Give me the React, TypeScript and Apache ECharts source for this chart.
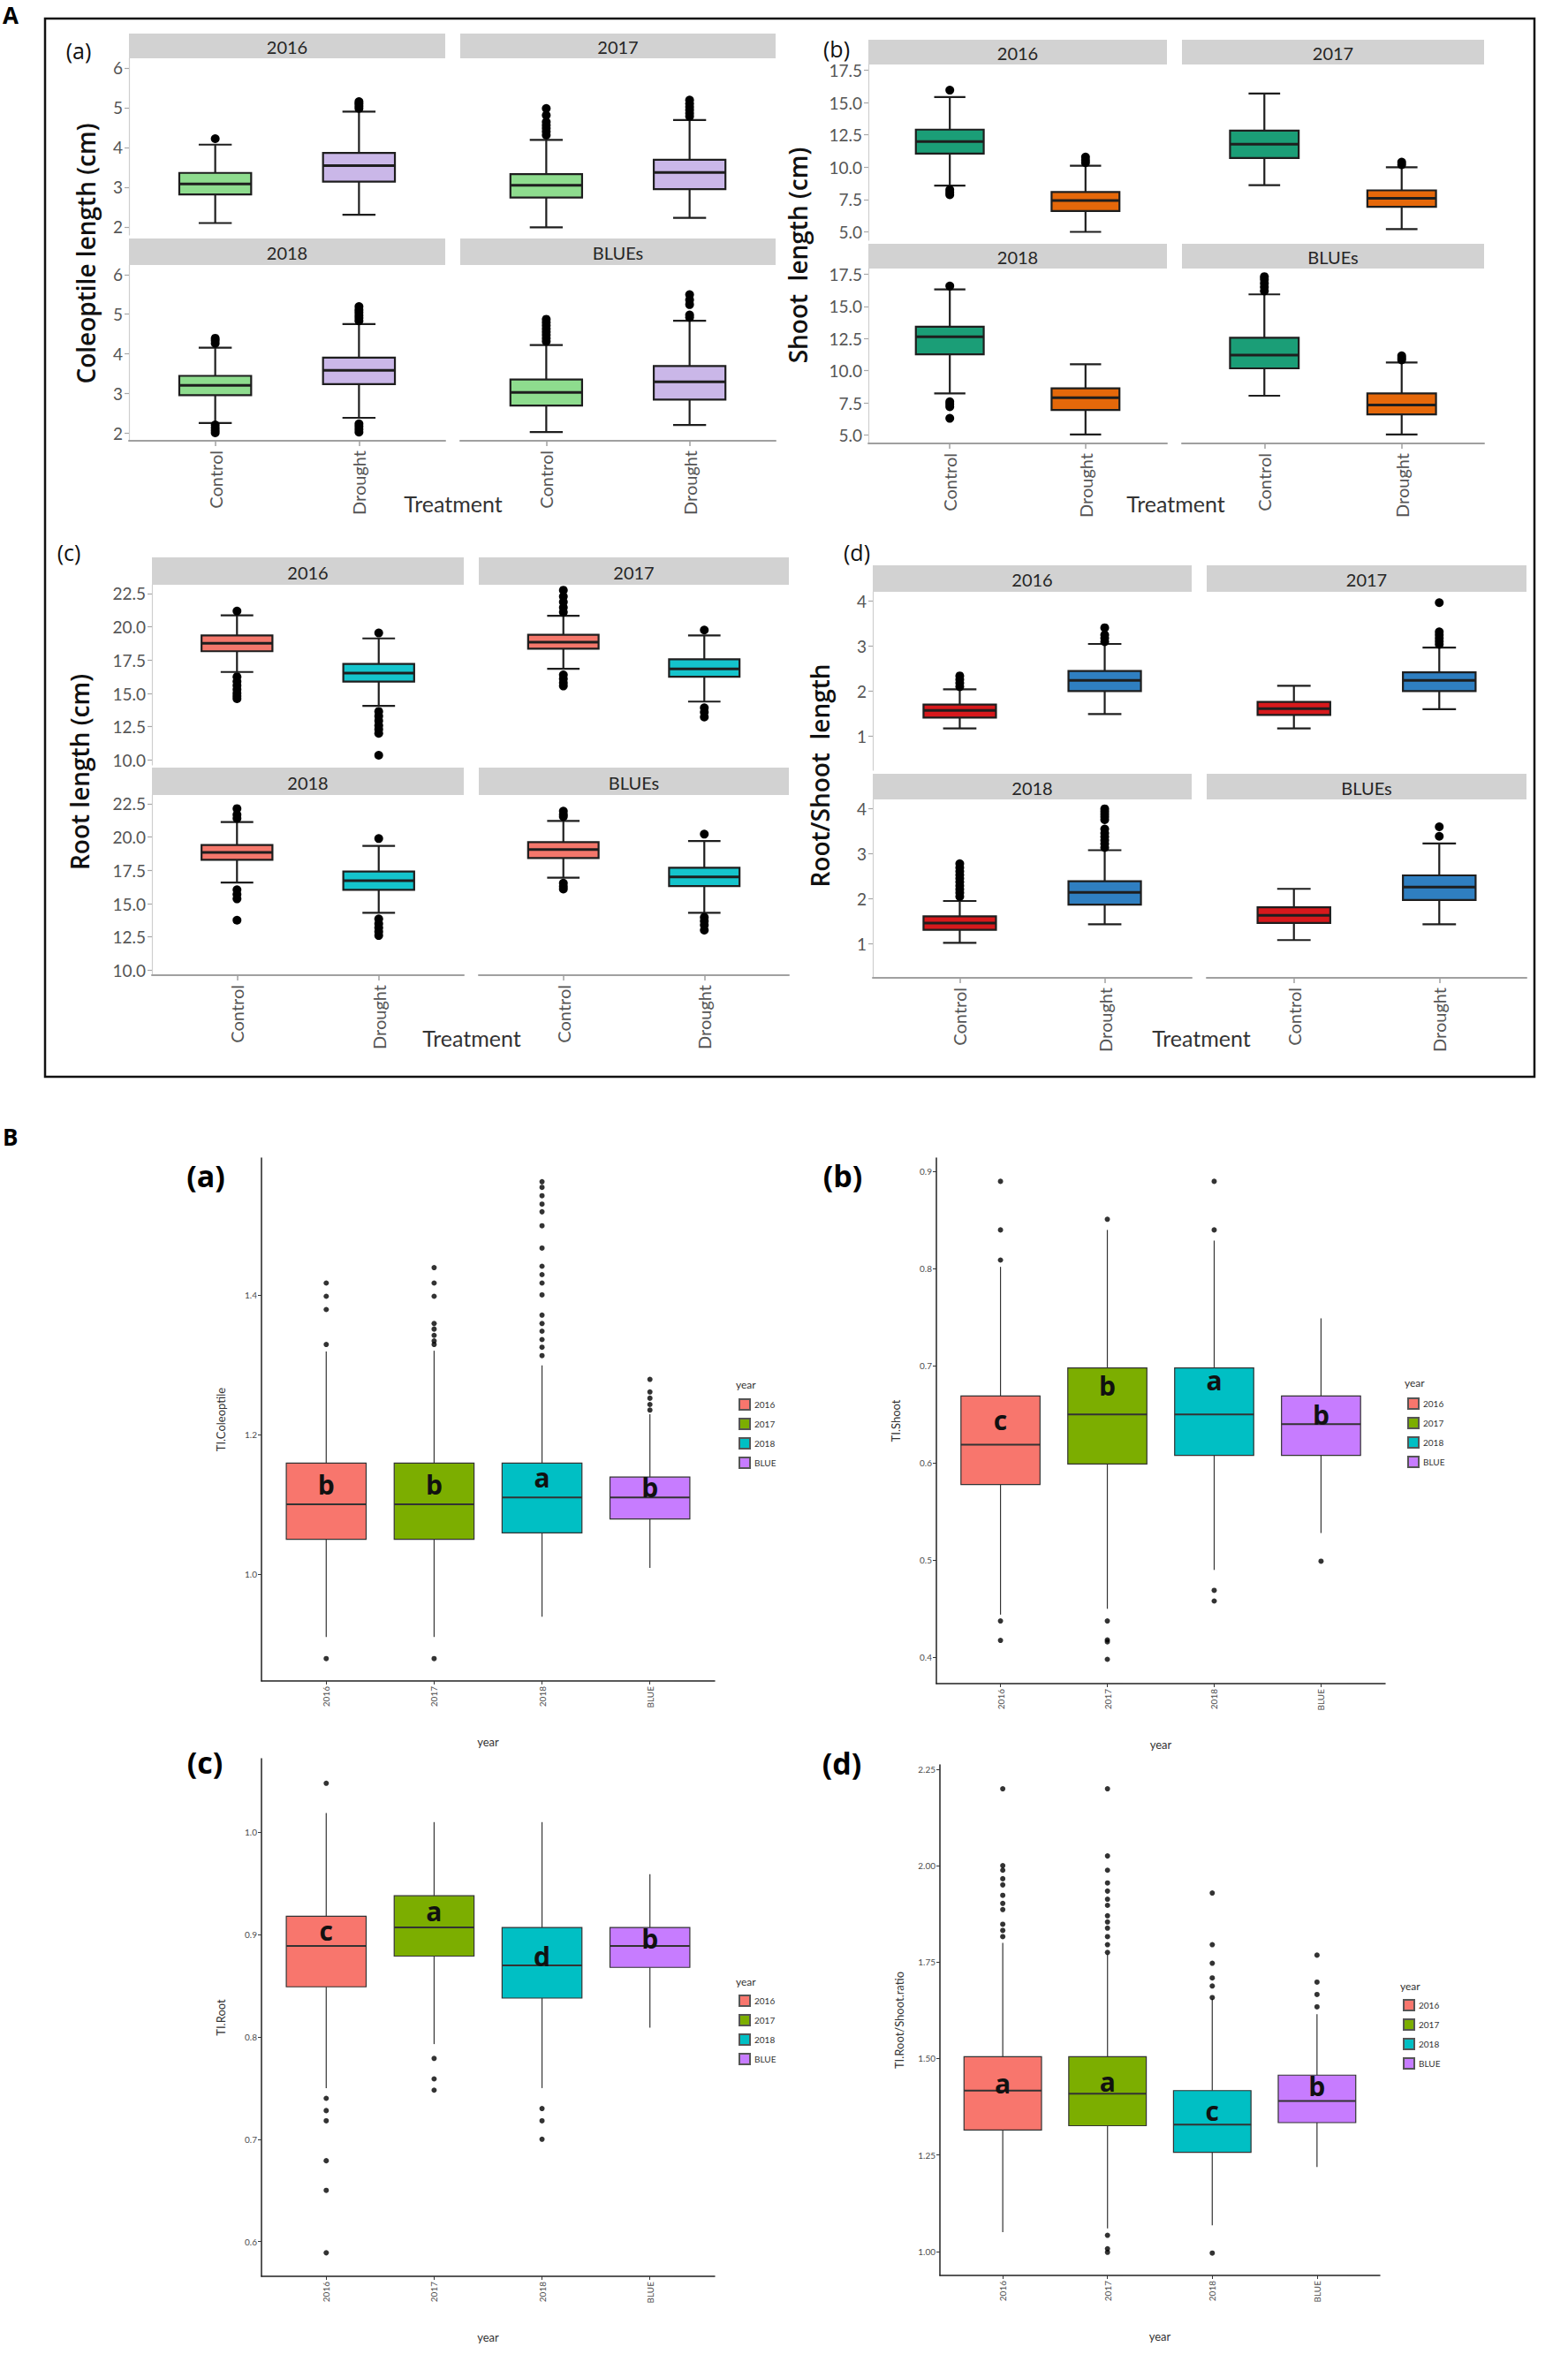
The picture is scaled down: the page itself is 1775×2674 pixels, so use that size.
import React, { useEffect, useRef } from 'react';
import * as echarts from 'echarts';

// ================= DATA : Panel A =================
const facetNames = ['2016', '2017', '2018', 'BLUEs'];
const treatments = ['Control', 'Drought'];

// per facet (2016, 2017, 2018, BLUEs): [Control, Drought]; box = [lower whisker, Q1, median, Q3, upper whisker]
const coleoptileBoxes = [
  [[2.10, 2.82, 3.08, 3.36, 4.07], [2.31, 3.14, 3.54, 3.86, 4.90]],
  [[1.99, 2.74, 3.05, 3.33, 4.19], [2.23, 2.95, 3.37, 3.69, 4.69]],
  [[2.25, 2.95, 3.20, 3.44, 4.15], [2.38, 3.23, 3.58, 3.90, 4.75]],
  [[2.02, 2.69, 3.02, 3.35, 4.22], [2.20, 2.84, 3.29, 3.69, 4.83]],
];
const coleoptileOutliers = [
  [[4.22], [4.98, 5.04, 5.10, 5.15]],
  [[4.31, 4.40, 4.48, 4.56, 4.64, 4.81, 4.98], [4.78, 4.86, 4.94, 5.02, 5.10, 5.19]],
  [[4.26, 4.33, 4.39, 2.20, 2.13, 2.06, 2.00], [4.83, 4.90, 4.97, 5.04, 5.11, 5.19, 2.23, 2.16, 2.09, 2.02]],
  [[4.31, 4.39, 4.47, 4.55, 4.63, 4.71, 4.79, 4.87], [4.92, 4.98, 5.24, 5.36, 5.49]],
];
const shootBoxes = [
  [[8.58, 11.05, 11.98, 12.91, 15.43], [5.00, 6.62, 7.42, 8.08, 10.12]],
  [[8.61, 10.71, 11.79, 12.83, 15.70], [5.21, 6.94, 7.60, 8.21, 9.99]],
  [[8.24, 11.28, 12.65, 13.43, 16.33], [5.05, 6.95, 7.90, 8.63, 10.50]],
  [[8.06, 10.19, 11.22, 12.57, 15.94], [5.05, 6.61, 7.33, 8.24, 10.65]],
];
const shootOutliers = [
  [[15.96, 8.26, 8.05, 7.87], [10.35, 10.55, 10.79]],
  [[], [10.20, 10.39]],
  [[16.59, 7.59, 7.40, 7.20, 6.30], []],
  [[16.20, 16.50, 16.80, 17.10, 17.32], [10.84, 11.00, 11.17]],
];
const rootBoxes = [
  [[16.61, 18.17, 18.77, 19.35, 20.86], [14.06, 15.89, 16.52, 17.21, 19.13]],
  [[16.85, 18.36, 18.85, 19.40, 20.83], [14.39, 16.25, 16.85, 17.57, 19.35]],
  [[16.59, 18.30, 18.85, 19.40, 21.13], [14.31, 16.04, 16.73, 17.42, 19.34]],
  [[16.95, 18.43, 19.07, 19.62, 21.21], [14.31, 16.32, 17.01, 17.69, 19.70]],
];
const rootOutliers = [
  [[21.18, 16.25, 15.90, 15.60, 15.30, 15.02, 14.80, 14.61], [19.54, 13.65, 13.30, 12.95, 12.60, 12.30, 12.00, 10.36]],
  [[22.75, 22.28, 21.87, 21.46, 21.10, 16.39, 16.10, 15.80, 15.56], [19.76, 13.92, 13.60, 13.23]],
  [[22.14, 21.68, 21.40, 16.04, 15.70, 15.36, 13.76], [19.89, 13.85, 13.50, 13.20, 12.90, 12.61]],
  [[21.95, 21.70, 21.54, 16.54, 16.30, 16.10], [20.22, 13.98, 13.70, 13.40, 13.02]],
];
const ratioBoxes = [
  [[1.17, 1.41, 1.57, 1.70, 2.04], [1.49, 2.00, 2.24, 2.45, 3.05]],
  [[1.17, 1.47, 1.61, 1.76, 2.12], [1.60, 2.00, 2.24, 2.42, 2.97]],
  [[1.02, 1.31, 1.46, 1.61, 1.95], [1.43, 1.87, 2.14, 2.39, 3.08]],
  [[1.08, 1.46, 1.63, 1.81, 2.22], [1.43, 1.97, 2.26, 2.52, 3.23]],
];
const ratioOutliers = [
  [[2.10, 2.18, 2.26, 2.34], [3.10, 3.18, 3.25, 3.41]],
  [[], [3.04, 3.11, 3.18, 3.25, 3.32, 3.97]],
  [[2.05, 2.13, 2.21, 2.29, 2.37, 2.45, 2.53, 2.61, 2.69, 2.78], [3.14, 3.22, 3.30, 3.38, 3.46, 3.55, 3.76, 3.82, 3.88, 3.94, 4.00]],
  [[], [3.39, 3.60]],
];
const coleoptileTicks = [2, 3, 4, 5, 6];
const shootTicks = [5, 7.5, 10, 12.5, 15, 17.5];
const rootTicks = [10, 12.5, 15, 17.5, 20, 22.5];
const ratioTicks = [1, 2, 3, 4];

// ================= DATA : Panel B =================
const tiYears = ['2016', '2017', '2018', 'BLUE'];
const tiColeoptileBoxes = [
  [0.910, 1.050, 1.100, 1.159, 1.319],
  [0.910, 1.050, 1.100, 1.159, 1.320],
  [0.939, 1.059, 1.110, 1.159, 1.299],
  [1.009, 1.079, 1.110, 1.139, 1.229],
];
const tiColeoptileOutliers = [
  [1.417, 1.398, 1.379, 1.329, 0.879],
  [1.439, 1.417, 1.398, 1.359, 1.351, 1.342, 1.334, 1.329, 0.879],
  [1.562, 1.554, 1.542, 1.530, 1.519, 1.499, 1.467, 1.441, 1.429, 1.417, 1.400, 1.371, 1.359, 1.348, 1.336, 1.325, 1.313],
  [1.279, 1.261, 1.252, 1.243, 1.235],
];
const tiColeoptileLetters = ['b', 'b', 'a', 'b'];
const tiColeoptileLetterAt = [1.128, 1.128, 1.139, 1.125];

const tiShootBoxes = [
  [0.444, 0.578, 0.619, 0.669, 0.802],
  [0.450, 0.599, 0.650, 0.698, 0.840],
  [0.490, 0.608, 0.650, 0.698, 0.829],
  [0.528, 0.608, 0.640, 0.669, 0.749],
];
const tiShootOutliers = [
  [0.890, 0.840, 0.809, 0.4375, 0.4175],
  [0.851, 0.4375, 0.418, 0.416, 0.398],
  [0.890, 0.840, 0.469, 0.458],
  [0.499],
];
const tiShootLetters = ['c', 'b', 'a', 'b'];
const tiShootLetterAt = [0.644, 0.680, 0.685, 0.650];

const tiRootBoxes = [
  [0.750, 0.849, 0.889, 0.918, 1.019],
  [0.793, 0.879, 0.907, 0.938, 1.010],
  [0.750, 0.838, 0.870, 0.907, 1.010],
  [0.809, 0.868, 0.889, 0.907, 0.959],
];
const tiRootOutliers = [
  [1.048, 0.740, 0.728, 0.718, 0.679, 0.650, 0.589],
  [0.779, 0.759, 0.748],
  [0.730, 0.718, 0.700],
  [],
];
const tiRootLetters = ['c', 'a', 'd', 'b'];
const tiRootLetterAt = [0.904, 0.923, 0.879, 0.896];

const tiRatioBoxes = [
  [1.050, 1.315, 1.417, 1.505, 1.800],
  [1.060, 1.326, 1.409, 1.505, 1.770],
  [1.068, 1.257, 1.329, 1.417, 1.655],
  [1.219, 1.334, 1.390, 1.457, 1.615],
];
const tiRatioOutliers = [
  [2.199, 2.000, 1.988, 1.966, 1.950, 1.923, 1.902, 1.886, 1.848, 1.832, 1.816],
  [2.199, 2.025, 1.988, 1.955, 1.934, 1.913, 1.897, 1.870, 1.854, 1.838, 1.816, 1.795, 1.775, 1.042, 1.007, 0.998],
  [1.929, 1.795, 1.747, 1.709, 1.688, 1.658, 0.996],
  [1.768, 1.698, 1.666, 1.634],
];
const tiRatioLetters = ['a', 'a', 'c', 'b'];
const tiRatioLetterAt = [1.436, 1.441, 1.366, 1.430];

const tiColeoptileTicks = [1.0, 1.2, 1.4];
const tiShootTicks = [0.4, 0.5, 0.6, 0.7, 0.8, 0.9];
const tiRootTicks = [0.6, 0.7, 0.8, 0.9, 1.0];
const tiRatioTicks = [1.0, 1.25, 1.5, 1.75, 2.0, 2.25];

// ================= LAYOUT / STYLE =================
const PAGE_W = 1775;
const PAGE_H = 2674;
const FONT = 'Lato, "Open Sans", sans-serif';
const HEAD_FONT = '"Open Sans", Lato, sans-serif';

const aPanels = [
  {
    name: 'coleoptile', tag: '(a)', tagAt: [89, 57], title: 'Coleoptile length (cm)', titleAt: [97, 287], treatAt: [513, 570],
    cols: [[146, 504], [521, 878]], strips: [[38, 66], [270, 300]], plots: [[66, 266], [300, 499]],
    range: [1.8, 6.24], ticks: coleoptileTicks, dec: 0, colors: ['#8edc8e', '#cab7e8'],
    boxes: coleoptileBoxes, outliers: coleoptileOutliers,
  },
  {
    name: 'shoot', tag: '(b)', tagAt: [947, 55], title: 'Shoot  length (cm)', titleAt: [903, 289], treatAt: [1331, 570],
    cols: [[983, 1321], [1338, 1680]], strips: [[45, 73], [276, 304]], plots: [[73, 272], [304, 502]],
    range: [4.35, 17.95], ticks: shootTicks, dec: 1, colors: ['#1b9e77', '#e5680a'],
    boxes: shootBoxes, outliers: shootOutliers,
  },
  {
    name: 'root', tag: '(c)', tagAt: [78, 625], title: 'Root length (cm)', titleAt: [90, 874], treatAt: [534, 1175],
    cols: [[172, 525], [542, 893]], strips: [[631, 662], [869, 900]], plots: [[662, 866], [900, 1104]],
    range: [9.63, 23.16], ticks: rootTicks, dec: 1, colors: ['#f4776b', '#14c4cc'],
    boxes: rootBoxes, outliers: rootOutliers,
  },
  {
    name: 'ratio', tag: '(d)', tagAt: [970, 625], title: 'Root/Shoot  length', titleAt: [928, 878], treatAt: [1360, 1175],
    cols: [[988, 1349], [1366, 1728]], strips: [[640, 670], [876, 905]], plots: [[670, 872], [905, 1107]],
    range: [0.24, 4.21], ticks: ratioTicks, dec: 0, colors: ['#d7191c', '#2f7fc1'],
    boxes: ratioBoxes, outliers: ratioOutliers,
  },
];

const bColors = ['#F8766D', '#7CAE00', '#00BFC4', '#C77CFF'];
const bPanels = [
  {
    tag: '(a)', tagAt: [233, 1331], box: [296, 1311, 809, 1903], range: [0.847, 1.596], ticks: tiColeoptileTicks, dec: 1,
    yName: 'TI.Coleoptile', legendAt: [836, 1583], legendTitleAt: [833, 1567],
    boxes: tiColeoptileBoxes, outliers: tiColeoptileOutliers, letters: tiColeoptileLetters, letterAt: tiColeoptileLetterAt,
  },
  {
    tag: '(b)', tagAt: [954, 1331], box: [1060, 1311, 1568, 1906], range: [0.373, 0.914], ticks: tiShootTicks, dec: 1,
    yName: 'TI.Shoot', legendAt: [1593, 1582], legendTitleAt: [1590, 1565],
    boxes: tiShootBoxes, outliers: tiShootOutliers, letters: tiShootLetters, letterAt: tiShootLetterAt,
  },
  {
    tag: '(c)', tagAt: [232, 1995], box: [296, 1991, 809, 2577], range: [0.566, 1.072], ticks: tiRootTicks, dec: 1,
    yName: 'TI.Root', legendAt: [836, 2258], legendTitleAt: [833, 2243],
    boxes: tiRootBoxes, outliers: tiRootOutliers, letters: tiRootLetters, letterAt: tiRootLetterAt,
  },
  {
    tag: '(d)', tagAt: [953, 1996], box: [1064, 1998, 1562, 2576], range: [0.938, 2.261], ticks: tiRatioTicks, dec: 2,
    yName: 'TI.Root/Shoot.ratio', legendAt: [1588, 2263], legendTitleAt: [1585, 2248],
    boxes: tiRatioBoxes, outliers: tiRatioOutliers, letters: tiRatioLetters, letterAt: tiRatioLetterAt,
  },
];

// ================= RENDERERS =================
function boxRenderer(boxFrac: number, capFrac: number, lineW: number, medW: number, stroke: string) {
  return (params: any, api: any) => {
    const x = api.value(0);
    const ys = [1, 2, 3, 4, 5].map((i) => api.coord([x, api.value(i)])[1]);
    const cx = api.coord([x, api.value(3)])[0];
    const unit = api.size([1, 0])[0];
    const hw = (unit * boxFrac) / 2;
    const cw = (unit * capFrac) / 2;
    const [yLo, yQ1, yMed, yQ3, yHi] = ys;
    const ls = () => ({ stroke, lineWidth: lineW });
    const children: any[] = [
      { type: 'line', shape: { x1: cx, y1: yLo, x2: cx, y2: yQ1 }, style: ls() },
      { type: 'line', shape: { x1: cx, y1: yQ3, x2: cx, y2: yHi }, style: ls() },
    ];
    if (capFrac > 0) {
      children.push({ type: 'line', shape: { x1: cx - cw, y1: yLo, x2: cx + cw, y2: yLo }, style: ls() });
      children.push({ type: 'line', shape: { x1: cx - cw, y1: yHi, x2: cx + cw, y2: yHi }, style: ls() });
    }
    children.push({
      type: 'rect',
      shape: { x: cx - hw, y: yQ3, width: hw * 2, height: yQ1 - yQ3 },
      style: { fill: api.visual('color'), stroke, lineWidth: lineW },
    });
    children.push({ type: 'line', shape: { x1: cx - hw, y1: yMed, x2: cx + hw, y2: yMed }, style: { stroke, lineWidth: medW } });
    return { type: 'group', children };
  };
}

function letterRenderer(letters: string[]) {
  return (params: any, api: any) => {
    const p = api.coord([api.value(0), api.value(1)]);
    return {
      type: 'text',
      x: p[0],
      y: p[1],
      style: {
        text: letters[params.dataIndex], fontSize: 30, fontWeight: 'bold', fontFamily: HEAD_FONT,
        fill: '#111', align: 'center', verticalAlign: 'middle',
      },
    };
  };
}

function buildOption() {
  const grid: any[] = [];
  const xAxis: any[] = [];
  const yAxis: any[] = [];
  const series: any[] = [];
  const graphic: any[] = [];
  const legend: any[] = [];

  // frame and big labels
  graphic.push({ type: 'rect', shape: { x: 51, y: 21, width: 1686, height: 1198 }, style: { fill: 'none', stroke: '#111', lineWidth: 2.5 }, z: 10 });
  graphic.push({ type: 'text', x: 3, y: 4, style: { text: 'A', fontSize: 26, fontWeight: 'bold', fontFamily: HEAD_FONT, fill: '#000', align: 'left', verticalAlign: 'top' } });
  graphic.push({ type: 'text', x: 3, y: 1274, style: { text: 'B', fontSize: 26, fontWeight: 'bold', fontFamily: HEAD_FONT, fill: '#000', align: 'left', verticalAlign: 'top' } });

  // ---------- Panel A ----------
  aPanels.forEach((p) => {
    graphic.push({ type: 'text', x: p.tagAt[0], y: p.tagAt[1], style: { text: p.tag, fontSize: 25, fontFamily: HEAD_FONT, fill: '#111', align: 'center', verticalAlign: 'middle' } });
    graphic.push({
      type: 'text', x: p.titleAt[0], y: p.titleAt[1], rotation: Math.PI / 2,
      style: { text: p.title, fontSize: 28, fontWeight: 600, fontFamily: HEAD_FONT, fill: '#111', align: 'center', verticalAlign: 'middle' },
    });
    graphic.push({ type: 'text', x: p.treatAt[0], y: p.treatAt[1], style: { text: 'Treatment', fontSize: 25, fontFamily: FONT, fill: '#333', align: 'center', verticalAlign: 'middle' } });

    facetNames.forEach((fname, f) => {
      const col = f % 2;
      const row = Math.floor(f / 2);
      const [x0, x1] = p.cols[col];
      const [s0, s1] = p.strips[row];
      const [t0, t1] = p.plots[row];
      graphic.push({ type: 'rect', shape: { x: x0, y: s0, width: x1 - x0, height: s1 - s0 }, style: { fill: '#d2d2d2' } });
      graphic.push({ type: 'text', x: (x0 + x1) / 2, y: (s0 + s1) / 2 + 1, style: { text: fname, fontSize: 20, fontFamily: FONT, fill: '#262626', align: 'center', verticalAlign: 'middle' } });

      const gi = grid.length;
      grid.push({ left: x0, top: t0, width: x1 - x0, height: t1 - t0, containLabel: false, outerBoundsMode: 'none' });
      const bottomRow = row === 1;
      const leftCol = col === 0;
      xAxis.push({
        type: 'value', gridIndex: gi, min: 0.4, max: 2.6,
        axisLine: { show: bottomRow, onZero: false, lineStyle: { color: '#a0a0a0', width: 2 } },
        axisTick: { show: bottomRow, customValues: [1, 2], length: 6, lineStyle: { color: '#a0a0a0', width: 1.5 } },
        axisLabel: {
          show: bottomRow, customValues: [1, 2], rotate: 90, margin: 11, fontSize: 20, color: '#555', fontFamily: FONT,
          formatter: (v: number) => treatments[Math.round(v) - 1] ?? '',
        },
        splitLine: { show: false },
      });
      yAxis.push({
        type: 'value', gridIndex: gi, min: p.range[0], max: p.range[1],
        axisLine: { show: leftCol, onZero: false, lineStyle: { color: '#cfcfcf', width: 1.2 } },
        axisTick: { show: leftCol, customValues: p.ticks, length: 5, lineStyle: { color: '#a8a8a8', width: 1.2 } },
        axisLabel: {
          show: leftCol, customValues: p.ticks, margin: 7, fontSize: 19, color: '#555', fontFamily: FONT,
          formatter: (v: number) => v.toFixed(p.dec),
        },
        splitLine: { show: false },
      });
      series.push({
        type: 'custom', name: `${p.name}-${fname}`, xAxisIndex: gi, yAxisIndex: gi,
        renderItem: boxRenderer(0.5, 0.23, 2.2, 3, '#1e1e1e'),
        encode: { x: 0, y: [1, 2, 3, 4, 5] },
        data: p.boxes[f].map((b, t) => ({ value: [t + 1, ...b], itemStyle: { color: p.colors[t] } })),
        clip: false, z: 2, silent: true,
      });
      series.push({
        type: 'scatter', name: `${p.name}-${fname}-outliers`, xAxisIndex: gi, yAxisIndex: gi,
        symbolSize: 10, itemStyle: { color: '#000', opacity: 1 },
        data: p.outliers[f].flatMap((arr, t) => arr.map((v) => [t + 1, v])),
        z: 3, silent: true,
      });
    });
  });

  // ---------- Panel B ----------
  bPanels.forEach((p) => {
    const [x0, y0, x1, y1] = p.box;
    const gi = grid.length;
    grid.push({ left: x0, top: y0, width: x1 - x0, height: y1 - y0, containLabel: false, outerBoundsMode: 'none' });
    graphic.push({ type: 'text', x: p.tagAt[0], y: p.tagAt[1], style: { text: p.tag, fontSize: 34, fontWeight: 'bold', fontFamily: HEAD_FONT, fill: '#000', align: 'center', verticalAlign: 'middle' } });
    graphic.push({ type: 'text', x: p.legendTitleAt[0], y: p.legendTitleAt[1], style: { text: 'year', fontSize: 12, fontFamily: FONT, fill: '#333', align: 'left', verticalAlign: 'middle' } });

    xAxis.push({
      type: 'value', gridIndex: gi, min: 0.4, max: 4.6,
      name: 'year', nameLocation: 'middle', nameGap: 62, nameTextStyle: { fontSize: 13, color: '#333', fontFamily: FONT },
      axisLine: { show: true, onZero: false, lineStyle: { color: '#222', width: 1.5 } },
      axisTick: { show: true, customValues: [1, 2, 3, 4], length: 4, lineStyle: { color: '#333', width: 1 } },
      axisLabel: {
        customValues: [1, 2, 3, 4], rotate: 90, margin: 6, fontSize: 10, color: '#4d4d4d', fontFamily: FONT,
        formatter: (v: number) => tiYears[Math.round(v) - 1] ?? '',
      },
      splitLine: { show: false },
    });
    yAxis.push({
      type: 'value', gridIndex: gi, min: p.range[0], max: p.range[1],
      name: p.yName, nameLocation: 'middle', nameRotate: 90, nameGap: 40,
      nameTextStyle: { fontSize: 13, color: '#333', fontFamily: FONT },
      axisLine: { show: true, onZero: false, lineStyle: { color: '#222', width: 1.5 } },
      axisTick: { show: true, customValues: p.ticks, length: 4, lineStyle: { color: '#333', width: 1 } },
      axisLabel: {
        customValues: p.ticks, margin: 5, fontSize: 10, color: '#4d4d4d', fontFamily: FONT,
        formatter: (v: number) => v.toFixed(p.dec),
      },
      splitLine: { show: false },
    });
    tiYears.forEach((yr, i) => {
      series.push({
        type: 'custom', name: yr, xAxisIndex: gi, yAxisIndex: gi,
        renderItem: boxRenderer(0.74, 0, 1.2, 2, '#333'),
        encode: { x: 0, y: [1, 2, 3, 4, 5] },
        itemStyle: { color: bColors[i], borderColor: '#555', borderWidth: 1 },
        data: [[i + 1, ...p.boxes[i]]],
        clip: false, z: 2, silent: true,
      });
    });
    series.push({
      type: 'scatter', name: `${p.yName}-outliers`, xAxisIndex: gi, yAxisIndex: gi,
      symbolSize: 6, itemStyle: { color: '#000' },
      data: p.outliers.flatMap((arr, i) => arr.map((v) => [i + 1, v])),
      z: 3, silent: true,
    });
    series.push({
      type: 'custom', name: `${p.yName}-letters`, xAxisIndex: gi, yAxisIndex: gi,
      renderItem: letterRenderer(p.letters),
      encode: { x: 0, y: 1 },
      data: p.letterAt.map((v, i) => [i + 1, v]),
      clip: false, z: 4, silent: true,
    });
    legend.push({
      orient: 'vertical', left: p.legendAt[0], top: p.legendAt[1], padding: 0,
      itemWidth: 12, itemHeight: 12, itemGap: 8, icon: 'rect', selectedMode: false,
      data: tiYears, textStyle: { fontSize: 10, color: '#333', fontFamily: FONT },
    });
  });

  return {
    animation: false,
    backgroundColor: '#ffffff',
    textStyle: { fontFamily: FONT },
    grid, xAxis, yAxis, series, legend, graphic,
  };
}

export default function App() {
  const ref = useRef<HTMLDivElement>(null);
  useEffect(() => {
    document.body.style.margin = '0';
    const chart = echarts.init(ref.current!, null, { renderer: 'svg', width: PAGE_W, height: PAGE_H });
    chart.setOption(buildOption() as any);
    return () => chart.dispose();
  }, []);
  return <div ref={ref} style={{ position: 'absolute', left: 0, top: 0, width: PAGE_W, height: PAGE_H, background: '#fff' }} />;
}
